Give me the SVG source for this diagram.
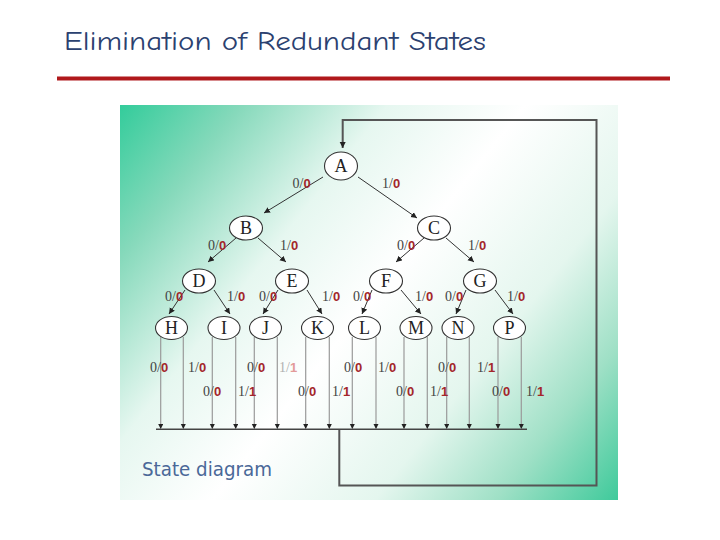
<svg xmlns="http://www.w3.org/2000/svg" width="720" height="540" viewBox="0 0 720 540">
<style>
.node ellipse{fill:#fff;stroke:#333;stroke-width:1.1}
.node text{font-family:"Liberation Serif",serif;font-size:18px;fill:#222;text-anchor:middle}
.edge{stroke:#333;stroke-width:1;fill:none}
.leaf{stroke:#9a9a9a;stroke-width:1.2;fill:none}
.lbl{font-family:"Liberation Serif",serif;font-size:14px;fill:#444}
.o{font-family:"Liberation Sans",sans-serif;font-weight:bold;font-size:13px;fill:#a3262a}
.faint{fill:#b0b0b0}
.faint .o{fill:#e39a9a}
.title{font-family:"Comic Neue","DejaVu Sans",sans-serif;fill:#2b4170}
</style>
<defs>
<linearGradient id="bg" gradientUnits="userSpaceOnUse" x1="120" y1="105" x2="618" y2="500">
<stop offset="0" stop-color="#33cc9b"/>
<stop offset="0.15" stop-color="#86d9bb"/>
<stop offset="0.33" stop-color="#e6f7f0"/>
<stop offset="0.5" stop-color="#ffffff"/>
<stop offset="0.7" stop-color="#e4f6ee"/>
<stop offset="0.85" stop-color="#9fe0c6"/>
<stop offset="1" stop-color="#3fca9b"/>
</linearGradient>
<marker id="ah" markerUnits="userSpaceOnUse" markerWidth="7" markerHeight="7" refX="6" refY="3" orient="auto">
<path d="M0,0 L6,3 L0,6 Z" fill="#222"/>
</marker>
<marker id="ahs" markerUnits="userSpaceOnUse" markerWidth="6" markerHeight="6" refX="5" refY="2.5" orient="auto">
<path d="M0,0 L5,2.5 L0,5 Z" fill="#222"/>
</marker>
</defs>
<text class="title" x="64" y="50" font-size="26" textLength="422" lengthAdjust="spacingAndGlyphs">Elimination of Redundant States</text>
<rect x="57" y="76.5" width="613" height="4" fill="#b0191c"/>
<rect x="120" y="105" width="498" height="395" fill="url(#bg)"/>
<g id="connectors">
<path d="M339.3,429.3 V485.5 H596.5 V120 H342.7 V148" stroke="#555" stroke-width="2" fill="none" marker-end="url(#ah)"/>
<line x1="156" y1="429.3" x2="527" y2="429.3" stroke="#444" stroke-width="1.6"/>
<line class="edge" x1="323" y1="177" x2="264" y2="213" marker-end="url(#ah)"/>
<line class="edge" x1="358" y1="177" x2="417" y2="218" marker-end="url(#ah)"/>
<line class="edge" x1="236" y1="238" x2="208" y2="262" marker-end="url(#ah)"/>
<line class="edge" x1="258" y1="238" x2="286" y2="262" marker-end="url(#ah)"/>
<line class="edge" x1="424" y1="238" x2="396" y2="262" marker-end="url(#ah)"/>
<line class="edge" x1="446" y1="238" x2="474" y2="262" marker-end="url(#ah)"/>
<line class="edge" x1="185" y1="290" x2="169" y2="314" marker-end="url(#ah)"/>
<line class="edge" x1="214" y1="290" x2="230" y2="314" marker-end="url(#ah)"/>
<line class="edge" x1="278" y1="290" x2="263" y2="314" marker-end="url(#ah)"/>
<line class="edge" x1="307" y1="290" x2="322" y2="314" marker-end="url(#ah)"/>
<line class="edge" x1="372" y1="290" x2="362" y2="314" marker-end="url(#ah)"/>
<line class="edge" x1="401" y1="290" x2="421" y2="314" marker-end="url(#ah)"/>
<line class="edge" x1="466" y1="290" x2="456" y2="314" marker-end="url(#ah)"/>
<line class="edge" x1="495" y1="290" x2="513" y2="314" marker-end="url(#ah)"/>
<g class="leaf">
<line x1="160.7" y1="337" x2="160.7" y2="429" marker-end="url(#ahs)"/>
<line x1="183.3" y1="337" x2="183.3" y2="429" marker-end="url(#ahs)"/>
<line x1="212.3" y1="337" x2="212.3" y2="429" marker-end="url(#ahs)"/>
<line x1="235.7" y1="337" x2="235.7" y2="429" marker-end="url(#ahs)"/>
<line x1="254.3" y1="337" x2="254.3" y2="429" marker-end="url(#ahs)"/>
<line x1="277.3" y1="337" x2="277.3" y2="429" marker-end="url(#ahs)"/>
<line x1="305.7" y1="337" x2="305.7" y2="429" marker-end="url(#ahs)"/>
<line x1="329.3" y1="337" x2="329.3" y2="429" marker-end="url(#ahs)"/>
<line x1="352.3" y1="337" x2="352.3" y2="429" marker-end="url(#ahs)"/>
<line x1="376" y1="337" x2="376" y2="429" marker-end="url(#ahs)"/>
<line x1="404" y1="337" x2="404" y2="429" marker-end="url(#ahs)"/>
<line x1="427.3" y1="337" x2="427.3" y2="429" marker-end="url(#ahs)"/>
<line x1="446.7" y1="337" x2="446.7" y2="429" marker-end="url(#ahs)"/>
<line x1="469.3" y1="337" x2="469.3" y2="429" marker-end="url(#ahs)"/>
<line x1="498" y1="337" x2="498" y2="429" marker-end="url(#ahs)"/>
<line x1="521.3" y1="337" x2="521.3" y2="429" marker-end="url(#ahs)"/>
</g>
</g>
<g id="labels">
<text class="lbl" x="292.5" y="188">0/<tspan class="o">0</tspan></text>
<text class="lbl" x="382" y="188">1/<tspan class="o">0</tspan></text>
<text class="lbl" x="208" y="250">0/<tspan class="o">0</tspan></text>
<text class="lbl" x="280" y="250">1/<tspan class="o">0</tspan></text>
<text class="lbl" x="397" y="250">0/<tspan class="o">0</tspan></text>
<text class="lbl" x="468" y="250">1/<tspan class="o">0</tspan></text>
<text class="lbl" x="165" y="301">0/<tspan class="o">0</tspan></text>
<text class="lbl" x="227" y="301">1/<tspan class="o">0</tspan></text>
<text class="lbl" x="259" y="301">0/<tspan class="o">0</tspan></text>
<text class="lbl" x="322" y="301">1/<tspan class="o">0</tspan></text>
<text class="lbl" x="353" y="301">0/<tspan class="o">0</tspan></text>
<text class="lbl" x="415" y="301">1/<tspan class="o">0</tspan></text>
<text class="lbl" x="445" y="301">0/<tspan class="o">0</tspan></text>
<text class="lbl" x="507" y="301">1/<tspan class="o">0</tspan></text>
<text class="lbl" x="150" y="372">0/<tspan class="o">0</tspan></text>
<text class="lbl" x="188" y="372">1/<tspan class="o">0</tspan></text>
<text class="lbl" x="247" y="372">0/<tspan class="o">0</tspan></text>
<text class="lbl faint" x="279" y="372">1/<tspan class="o">1</tspan></text>
<text class="lbl" x="344" y="372">0/<tspan class="o">0</tspan></text>
<text class="lbl" x="378" y="372">1/<tspan class="o">0</tspan></text>
<text class="lbl" x="438" y="372">0/<tspan class="o">0</tspan></text>
<text class="lbl" x="477" y="372">1/<tspan class="o">1</tspan></text>
<text class="lbl" x="203" y="396">0/<tspan class="o">0</tspan></text>
<text class="lbl" x="238" y="396">1/<tspan class="o">1</tspan></text>
<text class="lbl" x="298" y="396">0/<tspan class="o">0</tspan></text>
<text class="lbl" x="332" y="396">1/<tspan class="o">1</tspan></text>
<text class="lbl" x="396" y="396">0/<tspan class="o">0</tspan></text>
<text class="lbl" x="430" y="396">1/<tspan class="o">1</tspan></text>
<text class="lbl" x="492" y="396">0/<tspan class="o">0</tspan></text>
<text class="lbl" x="526" y="396">1/<tspan class="o">1</tspan></text>
</g>
<g id="node-A" class="node"><ellipse cx="341" cy="166" rx="16.5" ry="14"/><text x="341" y="172">A</text></g>
<g id="node-B" class="node"><ellipse cx="246" cy="228" rx="16.5" ry="12"/><text x="246" y="234">B</text></g>
<g id="node-C" class="node"><ellipse cx="434" cy="228" rx="16.5" ry="12"/><text x="434" y="234">C</text></g>
<g id="node-D" class="node"><ellipse cx="199" cy="281" rx="16.5" ry="12"/><text x="199" y="287">D</text></g>
<g id="node-E" class="node"><ellipse cx="292" cy="281" rx="16.5" ry="12"/><text x="292" y="287">E</text></g>
<g id="node-F" class="node"><ellipse cx="386" cy="281" rx="16.5" ry="12"/><text x="386" y="287">F</text></g>
<g id="node-G" class="node"><ellipse cx="480" cy="281" rx="16.5" ry="12"/><text x="480" y="287">G</text></g>
<g id="node-H" class="node"><ellipse cx="171.5" cy="328" rx="16" ry="11.5"/><text x="171.5" y="334">H</text></g>
<g id="node-I" class="node"><ellipse cx="224" cy="328" rx="16" ry="11.5"/><text x="224" y="334">I</text></g>
<g id="node-J" class="node"><ellipse cx="265.5" cy="328" rx="16" ry="11.5"/><text x="265.5" y="334">J</text></g>
<g id="node-K" class="node"><ellipse cx="317.5" cy="328" rx="16" ry="11.5"/><text x="317.5" y="334">K</text></g>
<g id="node-L" class="node"><ellipse cx="364.5" cy="328" rx="16" ry="11.5"/><text x="364.5" y="334">L</text></g>
<g id="node-M" class="node"><ellipse cx="416" cy="328" rx="16" ry="11.5"/><text x="416" y="334">M</text></g>
<g id="node-N" class="node"><ellipse cx="458" cy="328" rx="16" ry="11.5"/><text x="458" y="334">N</text></g>
<g id="node-P" class="node"><ellipse cx="509.5" cy="328" rx="16" ry="11.5"/><text x="509.5" y="334">P</text></g>
<text x="142" y="476" font-family="'DejaVu Sans',sans-serif" font-size="19" fill="#4a6898" textLength="130" lengthAdjust="spacingAndGlyphs">State diagram</text>
</svg>
